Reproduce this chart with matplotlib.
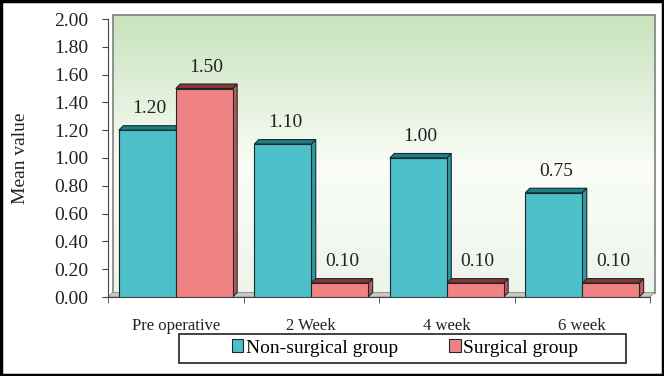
import matplotlib
matplotlib.use("Agg")
import matplotlib.pyplot as plt
import numpy as np
from matplotlib.patches import Polygon, Rectangle

categories = ["Pre operative", "2 Week", "4 week", "6 week"]
non_surgical = [1.20, 1.10, 1.00, 0.75]
surgical = [1.50, 0.10, 0.10, 0.10]
series_names = ["Non-surgical group", "Surgical group"]
yticks = [0.0, 0.2, 0.4, 0.6, 0.8, 1.0, 1.2, 1.4, 1.6, 1.8, 2.0]

teal = "#4cbfc8"
teal_dark = "#1f7f86"
teal_side = "#2f9aa2"
salmon = "#f08283"
salmon_dark = "#8e3434"
salmon_side = "#c05858"

plt.rcParams['font.family'] = ['Liberation Serif', 'DejaVu Serif']

W, H = 664, 376
fig = plt.figure(figsize=(W/100, H/100), dpi=100)
ax_l, ax_r, ax_b, ax_t = 108, 650, 297, 19
ax = fig.add_axes([ax_l/W, 1-ax_b/H, (ax_r-ax_l)/W, (ax_b-ax_t)/H])
ax.set_xlim(-0.5, len(categories)-0.5)
ax.set_ylim(0, 2.0)

# pixel depth in data units
d_px = 4.5
dx = d_px/(ax_r-ax_l)*len(categories)
dy = d_px/(ax_b-ax_t)*2.0

# gradient background (back wall)
grad = np.linspace(0, 1, 256)
cols = np.zeros((256, 1, 3))
top = np.array([0.78, 0.89, 0.74])
mid = np.array([0.98, 0.99, 0.97])
bot = np.array([0.93, 0.96, 0.92])
for i, g in enumerate(grad):
    if g > 0.45:
        t = (g-0.45)/0.55
        cols[i, 0] = mid*(1-t)+top*t
    else:
        t = g/0.45
        cols[i, 0] = bot*(1-t)+mid*t
ax.imshow(cols, origin='lower', aspect='auto',
          extent=[-0.5+dx, len(categories)-0.5+dx, dy, 2.0+dy], zorder=0, clip_on=False)
ax.add_patch(Rectangle((-0.5+dx, dy), len(categories), 2.0, fill=False, ec="#808080", lw=1.2,
                       zorder=0.5, clip_on=False))
ax.add_patch(Polygon([(-0.5, 0), (len(categories)-0.5, 0), (len(categories)-0.5+dx, dy), (-0.5+dx, dy)],
                     closed=True, fc="#c8c8c8", ec="#909090", lw=0.6, zorder=0.6, clip_on=False))

x = np.arange(len(categories))
w = 0.42

def bar3d(xc, h, fc, top_c, side_c):
    x0 = xc - w/2
    ax.add_patch(Polygon([(x0+w, 0), (x0+w+dx, dy), (x0+w+dx, h+dy), (x0+w, h)], closed=True,
                         fc=side_c, ec="#1a2a2a", lw=0.8, zorder=2))
    ax.add_patch(Polygon([(x0, h), (x0+w, h), (x0+w+dx, h+dy), (x0+dx, h+dy)], closed=True,
                         fc=top_c, ec="#1a2a2a", lw=0.8, zorder=2))

for xi, v in zip(x, non_surgical):
    bar3d(xi - w/2, v, teal, teal_dark, teal_side)
for xi, v in zip(x, surgical):
    bar3d(xi + w/2, v, salmon, salmon_dark, salmon_side)

b1 = ax.bar(x - w/2, non_surgical, w, color=teal, edgecolor="#1a2a2a", linewidth=0.8, zorder=3,
            label=series_names[0])
b2 = ax.bar(x + w/2, surgical, w, color=salmon, edgecolor="#1a2a2a", linewidth=0.8, zorder=3,
            label=series_names[1])

for xi, v in zip(x, non_surgical):
    ax.text(xi - w/2 + dx/2, v + dy + 0.06, f"{v:.2f}", ha="center", va="bottom", fontsize=14, color="#222222")
for xi, v in zip(x, surgical):
    ax.text(xi + w/2 + dx/2, v + dy + 0.06, f"{v:.2f}", ha="center", va="bottom", fontsize=14, color="#222222")

ax.set_yticks(yticks)
ax.set_yticklabels([f"{t:.2f}" for t in yticks], fontsize=14, color="#222222")
ax.set_xticks(x)
ax.set_xticklabels(categories, fontsize=12, color="#222222")
ax.tick_params(axis='x', length=0, pad=15)
ax.set_xticks(np.arange(-0.5, len(categories), 1.0), minor=True)
ax.tick_params(axis='x', which='minor', length=4, direction='out', color="#444444")
ax.tick_params(axis='y', length=4, direction='out', color="#444444", pad=10)
for s in ["top", "right"]:
    ax.spines[s].set_visible(False)
ax.spines["left"].set_color("#444444")
ax.spines["bottom"].set_color("#444444")
ax.set_ylabel("Mean value", fontsize=14, labelpad=18, color="#222222")
ax.set_facecolor("none")

leg = fig.legend(handles=[b1, b2], labels=series_names, loc="center",
                 bbox_to_anchor=(405/W, 1-348/H), ncol=2, frameon=False,
                 fontsize=14, handlelength=0.6, handleheight=0.6,
                 handletextpad=0.15, columnspacing=2.6, borderpad=0.2)
fig.patches.append(Rectangle((179/W, 1-363/H), (626-179)/W, (363-334)/H, transform=fig.transFigure,
                             fill=False, ec="#222222", lw=1.2))

fig.patches.append(Rectangle((0.002, 0.003), 0.996, 0.994, transform=fig.transFigure,
                             fill=False, ec="black", lw=2.5))

fig.savefig("out.png", dpi=100)
